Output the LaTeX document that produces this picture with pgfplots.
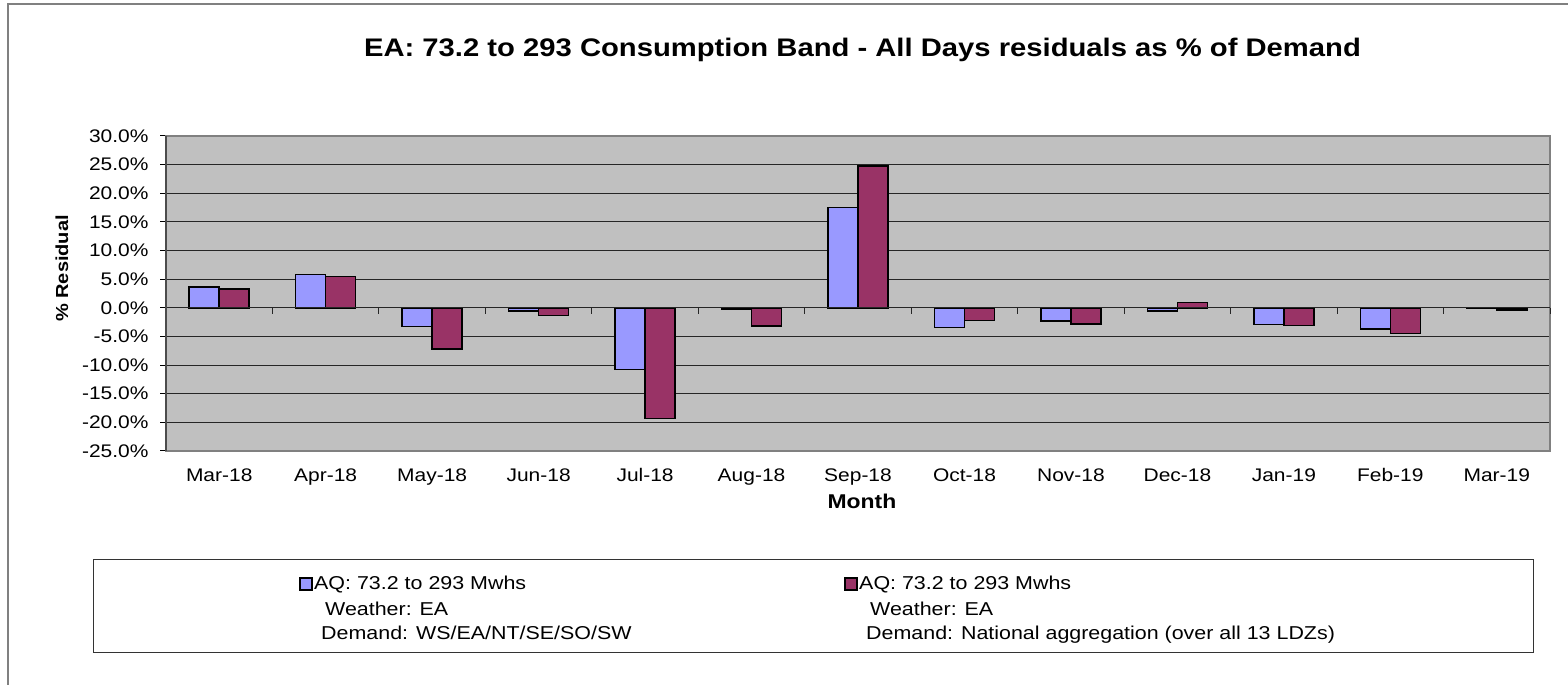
\documentclass[border=0pt]{standalone}
\usepackage{pgfplots}
\pgfplotsset{compat=1.18}
\usepackage{fontspec}
\setmainfont{Liberation Sans}[FakeStretch=1.15]
\definecolor{serA}{HTML}{9999FF}
\definecolor{serB}{HTML}{993366}
\definecolor{plotbg}{HTML}{C0C0C0}
\definecolor{frameg}{HTML}{808080}
\begin{document}
\begin{tikzpicture}[x=1bp,y=1bp]
\path[use as bounding box] (0,0) rectangle (1568,685);
% outer chart frame (cropped)
\draw[frameg, line width=1.5bp] (8,0) -- (8,681) -- (1568,681);
% title
\node[anchor=base, inner sep=0pt, font=\fontsize{25.5}{30}\selectfont\bfseries] at (862.5,628) {EA: 73.2 to 293 Consumption Band - All Days residuals as \% of Demand};
\begin{axis}[
  at={(166bp,234bp)}, anchor=south west,
  scale only axis, width=1384bp, height=315bp,
  xmin=-0.5, xmax=12.5, ymin=-25, ymax=30,
  axis background/.style={fill=plotbg},
  axis line style={draw=frameg, line width=1.5bp},
  ybar=0pt, bar width=30bp,
  xtick={0,...,12},
  xticklabels={Mar-18,Apr-18,May-18,Jun-18,Jul-18,Aug-18,Sep-18,Oct-18,Nov-18,Dec-18,Jan-19,Feb-19,Mar-19},
  x tick style={draw=none},
  xticklabel style={font=\fontsize{18.3}{22}\selectfont, yshift=-8bp},
  ytick={-25,-20,...,30},
  ytick pos=left,
  tick align=outside,
  major tick length=6bp,
  y tick style={black, line width=1bp},
  yticklabel={\pgfmathprintnumber[fixed,fixed zerofill,precision=1]{\tick}\%},
  /pgf/number format/assume math mode=true,
  yticklabel style={font=\fontsize{18.3}{22}\selectfont, xshift=-8bp},
  ymajorgrids,
  grid style={black!85, line width=0.9bp},
  clip=false,
]
\addplot[fill=serA, draw=black, line width=1.5bp] coordinates {
 (0,3.6) (1,5.8) (2,-3.3) (3,-0.6) (4,-10.8) (5,-0.3) (6,17.5) (7,-3.4) (8,-2.3) (9,-0.6) (10,-2.9) (11,-3.7) (12,-0.1)};
\addplot[fill=serB, draw=black, line width=1.5bp] coordinates {
 (0,3.3) (1,5.5) (2,-7.2) (3,-1.3) (4,-19.3) (5,-3.2) (6,24.8) (7,-2.2) (8,-2.8) (9,0.9) (10,-3.1) (11,-4.5) (12,-0.4)};
\draw[black!85, line width=1bp] (axis cs:-0.5,0) -- (axis cs:12.5,0);
\pgfplotsinvokeforeach{0.5,1.5,2.5,3.5,4.5,5.5,6.5,7.5,8.5,9.5,10.5,11.5,12.5}{\draw[black!85, line width=1bp] (axis cs:#1,0) -- ([yshift=-6bp]axis cs:#1,0);}
\draw[black!70, line width=1.5bp] (axis cs:-0.5,-25) -- (axis cs:-0.5,30);
\end{axis}
% axis titles
\node[font=\fontsize{17.5}{21}\selectfont\bfseries, rotate=90] at (62,416.5) {\% Residual};
\node[font=\fontsize{20}{24}\selectfont\bfseries] at (862,184) {Month};
% legend
\draw[black!80, line width=1bp, fill=white] (93,32) rectangle (1533,125);
\draw[black, line width=1.2bp, fill=serA] (300,95) rectangle (312,107);
\draw[black, line width=1.2bp, fill=serB] (845,95) rectangle (857,107);
\node[anchor=base west, inner sep=0pt, font=\fontsize{18.7}{22}\selectfont] at (314,95) {AQ: 73.2 to 293 Mwhs};
\node[anchor=base west, inner sep=0pt, font=\fontsize{18.7}{22}\selectfont] at (325,69.5) {Weather: EA};
\node[anchor=base west, inner sep=0pt, font=\fontsize{18.7}{22}\selectfont] at (321,45.5) {Demand: WS/EA/NT/SE/SO/SW};
\node[anchor=base west, inner sep=0pt, font=\fontsize{18.7}{22}\selectfont] at (859,95) {AQ: 73.2 to 293 Mwhs};
\node[anchor=base west, inner sep=0pt, font=\fontsize{18.7}{22}\selectfont] at (870,69.5) {Weather: EA};
\node[anchor=base west, inner sep=0pt, font=\fontsize{18.7}{22}\selectfont] at (866,45.5) {Demand: National aggregation (over all 13 LDZs)};
\end{tikzpicture}
\end{document}
